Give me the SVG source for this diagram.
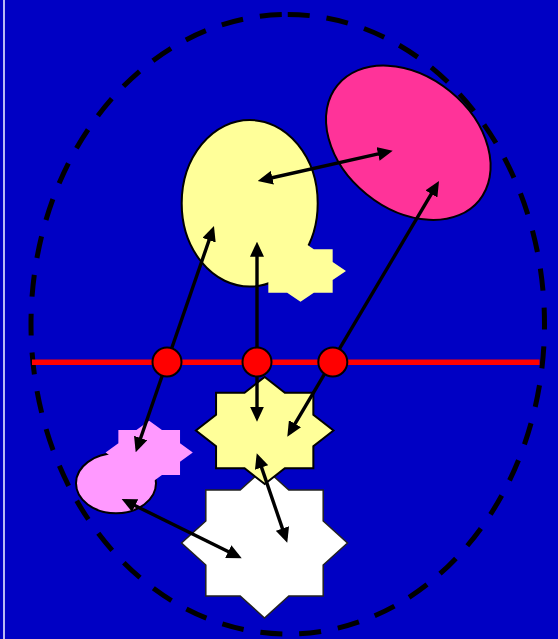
<svg xmlns="http://www.w3.org/2000/svg" width="558" height="639" viewBox="0 0 558 639">
<style>
.conn{stroke:#000;stroke-width:3.4;fill:none;marker-start:url(#ah);marker-end:url(#ah)}
.node{stroke:#000;stroke-width:2}
.dot{fill:#FF0000;stroke:#000;stroke-width:2}
</style>
<defs>
<marker id="ah" viewBox="0 0 15 14" refX="10.5" refY="7" markerWidth="15" markerHeight="14" markerUnits="userSpaceOnUse" orient="auto-start-reverse">
<path d="M0,0 L15,7 L0,14 z" fill="#000"/>
</marker>
</defs>
<rect x="0" y="0" width="558" height="639" fill="#0000C4"/>
<line x1="4" y1="0" x2="4" y2="639" stroke="#E8E8FF" stroke-width="1.6"/>
<g id="boundary">
<path d="M287.75 14.5 A256.75 309.8 0 0 1 287.75 634.1 A256.75 309.8 0 0 1 287.75 14.5 Z" fill="none" stroke="#000" stroke-width="5" stroke-dasharray="22 17"/>
</g>
<g id="axis">
<line x1="32" y1="362.2" x2="539.5" y2="362.2" stroke="#FF0000" stroke-width="5.5"/>
</g>
<g id="yellow-ellipse">
<ellipse cx="249.7" cy="203.3" rx="68" ry="83.3" fill="#FFFF99" class="node"/>
</g>
<g id="yellow-small-star">
<polygon points="346,271 332.67,279.99 332.67,292.71 313.83,292.71 300.5,301.7 287.17,292.71 268.33,292.71 268.33,279.99 255,271 268.33,262.01 268.33,249.29 287.17,249.29 300.5,240.3 313.83,249.29 332.67,249.29 332.67,262.01" fill="#FFFF99"/>
</g>
<g id="magenta-ellipse">
<ellipse cx="408.3" cy="142.8" rx="91.3" ry="66.3" transform="rotate(39 408.3 142.8)" fill="#FF3399" class="node"/>
</g>
<g id="pink-ellipse">
<ellipse cx="116" cy="483.3" rx="40" ry="30" fill="#FF99FF" class="node"/>
</g>
<g id="pink-star">
<polygon points="192.8,452.5 180.03,461.81 180.03,474.99 161.97,474.99 149.2,484.3 136.43,474.99 118.37,474.99 118.37,461.81 105.6,452.5 118.37,443.19 118.37,430.01 136.43,430.01 149.2,420.7 161.97,430.01 180.03,430.01 180.03,443.19" fill="#FF99FF"/>
</g>
<g id="white-star">
<polygon points="347.5,543 323.19,564.97 323.19,596.03 288.81,596.03 264.5,618 240.19,596.03 205.81,596.03 205.81,564.97 181.5,543 205.81,521.03 205.81,489.97 240.19,489.97 264.5,468 288.81,489.97 323.19,489.97 323.19,521.03" fill="#FFFFFF" stroke="#222" stroke-width="1.5"/>
</g>
<g id="yellow-star">
<polygon points="333.5,430.5 313.35,446.17 313.35,468.33 284.85,468.33 264.7,484 244.55,468.33 216.05,468.33 216.05,446.17 195.9,430.5 216.05,414.83 216.05,392.67 244.55,392.67 264.7,377 284.85,392.67 313.35,392.67 313.35,414.83" fill="#FFFF99" class="node"/>
</g>
<g id="connectors">
<line class="conn" x1="388.3" y1="151.7" x2="262.1" y2="180"/>
<line class="conn" x1="137.2" y1="448" x2="212.5" y2="230.3"/>
<line class="conn" x1="257" y1="246.2" x2="257" y2="417.2"/>
<line class="conn" x1="436.7" y1="184.9" x2="289.6" y2="432.8"/>
<line class="conn" x1="258.2" y1="457.6" x2="285.8" y2="538.4"/>
<line class="conn" x1="125.7" y1="501" x2="237.7" y2="556.3"/>
</g>
<g id="junction-1"><circle class="dot" cx="167" cy="362" r="14.5"/></g>
<g id="junction-2"><circle class="dot" cx="257" cy="362" r="14.5"/></g>
<g id="junction-3"><circle class="dot" cx="332.8" cy="362" r="14.5"/></g>
</svg>
